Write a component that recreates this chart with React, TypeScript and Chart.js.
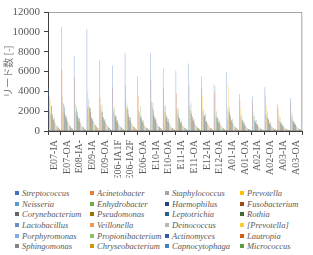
import React, { useEffect, useRef } from "react";
import { Chart, registerables } from "chart.js";

Chart.register(...registerables);

// Sampling sites on the x axis
const categories = [
  "E07-IA", "E07-OA", "E08-IA-", "E09-IA", "E09-OA", "E06-IA1F", "E06-IA2F",
  "E06-OA", "E10-IA", "E10-OA", "E11-IA", "E11-OA", "E12-IA", "E12-OA",
  "A01-IA", "A01-OA", "A02-IA", "A02-OA", "A03-IA", "A03-OA",
];

const yTicks = [0, 2000, 4000, 6000, 8000, 10000, 12000];

// Read counts per genus, one value per site
const streptococcus = [4300, 10500, 7600, 10300, 7100, 6600, 7900, 5500, 7900, 6300, 6100, 6800, 5500, 4700, 6000, 3700, 3500, 4400, 2700, 3300];
const acinetobacter = [3500, 6200, 5400, 2400, 3400, 4400, 4600, 3500, 5200, 4300, 3800, 4600, 4300, 3900, 1200, 3100, 2900, 3600, 2300, 2800];
const staphylococcus = [2000, 3500, 2800, 4000, 2600, 2200, 3000, 2100, 3000, 2500, 2300, 2600, 2000, 1800, 2300, 1500, 1400, 1700, 1200, 1300];
const prevotella = [3200, 2000, 1800, 2500, 2200, 1900, 2400, 1600, 2800, 2000, 2400, 2200, 3600, 4500, 4600, 2200, 2000, 2500, 1600, 1900];
const neisseria = [1800, 2800, 2200, 3200, 2000, 1700, 2300, 1900, 2400, 1900, 1800, 2100, 1600, 1500, 2000, 1200, 1100, 1500, 1000, 1100];
const enhydrobacter = [2600, 2700, 2500, 2300, 2700, 2400, 2600, 2500, 2900, 2600, 2200, 2800, 2200, 2000, 2500, 1700, 1500, 2000, 1400, 1600];
const haemophilus = [2500, 2400, 2000, 2400, 1900, 1600, 2200, 1500, 2100, 1600, 1500, 1800, 1600, 1400, 1900, 1100, 1000, 1300, 900, 1000];
const fusobacterium = [1500, 1800, 1600, 1900, 1400, 1300, 1700, 1200, 1600, 1300, 1200, 1500, 1400, 1200, 1600, 900, 800, 1100, 700, 800];
const corynebacterium = [1700, 1600, 1400, 2300, 1300, 1500, 1400, 1400, 1500, 1400, 1300, 1400, 1800, 1300, 1400, 1000, 1100, 1200, 800, 900];
const pseudomonas = [1200, 1300, 1200, 1400, 1100, 1000, 1300, 1000, 1200, 1000, 900, 1100, 1000, 900, 1100, 700, 700, 800, 600, 700];
const leptotrichia = [1100, 1200, 1000, 1300, 1000, 900, 1100, 900, 1100, 900, 800, 1000, 900, 800, 1000, 600, 600, 700, 500, 600];
const rothia = [1300, 1500, 1300, 1200, 1200, 1100, 1400, 1100, 1300, 1200, 1000, 1200, 1000, 1000, 1200, 800, 700, 900, 600, 700];
const lactobacillus = [900, 1000, 800, 1100, 800, 700, 900, 700, 900, 800, 700, 800, 700, 700, 800, 500, 500, 600, 400, 500];
const veillonella = [800, 900, 900, 1000, 700, 800, 800, 600, 800, 700, 600, 700, 800, 600, 700, 500, 400, 500, 400, 400];
const deinococcus = [700, 800, 700, 900, 700, 600, 700, 600, 700, 600, 500, 600, 600, 500, 600, 400, 400, 500, 300, 400];
const prevotellaBracket = [600, 700, 600, 800, 600, 500, 600, 500, 600, 500, 600, 500, 700, 600, 800, 400, 300, 400, 300, 300];
const porphyromonas = [500, 600, 500, 700, 500, 500, 500, 400, 500, 400, 400, 500, 500, 400, 500, 300, 300, 400, 300, 300];
const propionibacterium = [600, 500, 400, 600, 500, 400, 500, 400, 500, 400, 400, 400, 400, 400, 400, 300, 300, 300, 200, 300];
const actinomyces = [400, 500, 400, 600, 400, 400, 400, 300, 400, 300, 300, 400, 300, 300, 400, 200, 200, 300, 200, 200];
const lautropia = [300, 400, 400, 500, 300, 300, 400, 300, 400, 300, 300, 300, 300, 300, 300, 200, 200, 200, 200, 200];
const sphingomonas = [400, 300, 300, 400, 300, 300, 300, 300, 300, 300, 300, 300, 300, 200, 300, 200, 200, 200, 100, 200];
const chryseobacterium = [300, 300, 200, 400, 300, 200, 300, 200, 300, 200, 200, 300, 200, 200, 300, 200, 100, 200, 100, 200];
const capnocytophaga = [200, 300, 200, 300, 200, 200, 200, 200, 300, 200, 200, 200, 200, 200, 200, 100, 100, 200, 100, 100];
const micrococcus = [200, 200, 200, 300, 200, 200, 200, 200, 200, 200, 200, 200, 200, 100, 200, 100, 100, 100, 100, 100];

const genera = [
  "Streptococcus", "Acinetobacter", "Staphylococcus", "Prevotella",
  "Neisseria", "Enhydrobacter", "Haemophilus", "Fusobacterium",
  "Corynebacterium", "Pseudomonas", "Leptotrichia", "Rothia",
  "Lactobacillus", "Veillonella", "Deinococcus", "[Prevotella]",
  "Porphyromonas", "Propionibacterium", "Actinomyces", "Lautropia",
  "Sphingomonas", "Chryseobacterium", "Capnocytophaga", "Micrococcus",
];

const seriesValues = [
  streptococcus, acinetobacter, staphylococcus, prevotella,
  neisseria, enhydrobacter, haemophilus, fusobacterium,
  corynebacterium, pseudomonas, leptotrichia, rothia,
  lactobacillus, veillonella, deinococcus, prevotellaBracket,
  porphyromonas, propionibacterium, actinomyces, lautropia,
  sphingomonas, chryseobacterium, capnocytophaga, micrococcus,
];

const colors = [
  "#4472C4", "#ED7D31", "#A5A5A5", "#FFC000",
  "#5B9BD5", "#70AD47", "#264478", "#9E480E",
  "#636363", "#997300", "#255E91", "#43682B",
  "#698ED0", "#F1975A", "#B7B7B7", "#FFCD33",
  "#7CAFDD", "#8CC168", "#335AA1", "#D26012",
  "#848484", "#CC9A00", "#3D82C4", "#5E9A3A",
];

// Bars are drawn semi-transparent so the thin columns read as a soft wash
const withAlpha = (hex: string, a: number) => {
  const n = parseInt(hex.slice(1), 16);
  return `rgba(${(n >> 16) & 255}, ${(n >> 8) & 255}, ${n & 255}, ${a})`;
};

const SERIF = '"Liberation Serif", "Times New Roman", serif';

// Light grey box around the plotting area
const frame = {
  id: "frame",
  beforeDraw(chart: any) {
    const { ctx, chartArea: a } = chart;
    ctx.save();
    ctx.strokeStyle = "#a6a6a6";
    ctx.lineWidth = 1;
    ctx.strokeRect(a.left + 0.5, a.top + 0.5, a.right - a.left - 1, a.bottom - a.top - 1);
    ctx.restore();
  },
};

export default function App() {
  const ref = useRef<HTMLCanvasElement | null>(null);

  useEffect(() => {
    if (!ref.current) return;
    const chart = new Chart(ref.current, {
      type: "bar",
      data: {
        labels: categories,
        datasets: genera.map((g, i) => ({
          label: g,
          data: seriesValues[i],
          backgroundColor: withAlpha(colors[i], 0.6),
          borderWidth: 0,
          categoryPercentage: 0.92,
          barPercentage: 1,
        })),
      },
      options: {
        responsive: false,
        animation: false,
        devicePixelRatio: 1,
        layout: { autoPadding: false, padding: { top: 12, right: 2, left: 0, bottom: 0 } },
        plugins: {
          legend: { display: false },
          tooltip: { enabled: false },
        },
        scales: {
          x: {
            offset: true,
            afterFit: (s: any) => { s.height = 47; },
            grid: {
              display: true,
              offset: true,
              drawOnChartArea: false,
              drawTicks: true,
              tickLength: 4,
              color: "#404040",
            },
            border: { display: true, color: "#404040", width: 1 },
            ticks: {
              autoSkip: false,
              minRotation: 90,
              maxRotation: 90,
              padding: 5,
              color: "#595959",
              font: { family: SERIF, size: 10 },
            },
          },
          y: {
            min: 0,
            max: 12000,
            afterFit: (s: any) => { s.width = 48; },
            afterBuildTicks: (s: any) => { s.ticks = yTicks.map((v) => ({ value: v })); },
            grid: {
              display: true,
              drawOnChartArea: false,
              drawTicks: true,
              tickLength: 4,
              color: "#404040",
            },
            border: { display: true, color: "#404040", width: 1 },
            ticks: {
              padding: 4,
              color: "#595959",
              font: { family: SERIF, size: 11 },
              callback: (v: any) => String(v),
            },
            title: {
              display: true,
              text: "リード数 [-]",
              color: "#7f7f7f",
              font: { family: '"Noto Sans CJK JP", sans-serif', size: 10 },
              padding: { top: 2, bottom: 0 },
            },
          },
        },
      },
      plugins: [frame],
    });
    return () => chart.destroy();
  }, []);

  return (
    <div style={{ position: "absolute", left: 0, top: 0, width: 313, height: 255, background: "#fff" }}>
      <canvas ref={ref} width={313} height={178} style={{ display: "block" }} />
      <div
        style={{
          position: "absolute",
          left: 15,
          top: 188,
          display: "grid",
          gridTemplateColumns: "repeat(4, 75px)",
          gridAutoRows: "10.6px",
          font: `italic 8.5px ${SERIF}`,
          color: "#595959",
        }}
      >
        {genera.map((g, i) => (
          <div key={g} style={{ display: "flex", alignItems: "center", whiteSpace: "nowrap" }}>
            <span style={{ display: "inline-block", width: 4, height: 4, background: colors[i], marginRight: 3, flex: "none" }} />
            <span>{g}</span>
          </div>
        ))}
      </div>
    </div>
  );
}
